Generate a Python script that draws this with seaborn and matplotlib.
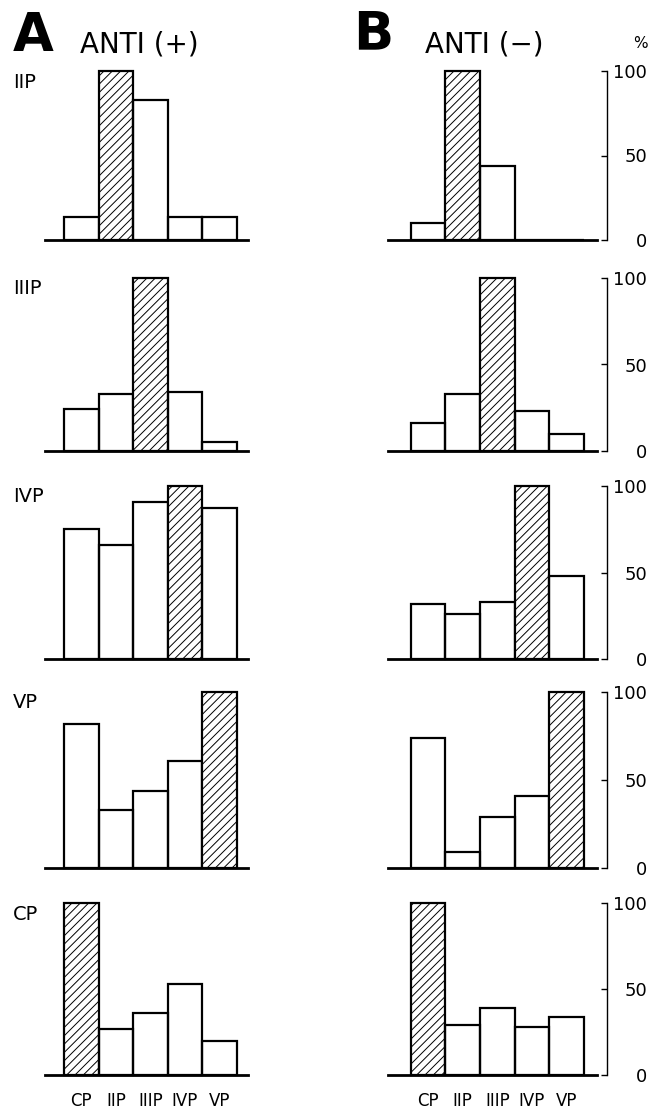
import matplotlib
matplotlib.use("Agg")
import matplotlib.pyplot as plt
import seaborn as sns
import pandas as pd

sns.set_theme(style="white")
plt.rcParams["font.family"] = ["DejaVu Sans"]
plt.rcParams["hatch.linewidth"] = 0.7
plt.rcParams["text.color"] = "black"
plt.rcParams["xtick.color"] = "black"
plt.rcParams["ytick.color"] = "black"

# ---- data ----
categories = ["CP", "IIP", "IIIP", "IVP", "VP"]
row_labels = ["IIP", "IIIP", "IVP", "VP", "CP"]

anti_plus_iip = [13.5, 100, 83, 13.5, 13.5]
anti_plus_iiip = [24, 33, 100, 34, 5]
anti_plus_ivp = [75, 66, 91, 100, 87]
anti_plus_vp = [82, 33, 44, 61, 100]
anti_plus_cp = [100, 27, 36, 53, 20]

anti_minus_iip = [10, 100, 44, 0, 0]
anti_minus_iiip = [16, 33, 100, 23, 10]
anti_minus_ivp = [32, 26, 33, 100, 48]
anti_minus_vp = [74, 9, 29, 41, 100]
anti_minus_cp = [100, 29, 39, 28, 34]

panel_titles = ["ANTI (+)", "ANTI (\u2212)"]
panel_letters = ["A", "B"]
y_ticks = [0, 50, 100]

anti_plus = [anti_plus_iip, anti_plus_iiip, anti_plus_ivp, anti_plus_vp, anti_plus_cp]
anti_minus = [anti_minus_iip, anti_minus_iiip, anti_minus_ivp, anti_minus_vp, anti_minus_cp]

# ---- layout (pixels) ----
W, H = 656, 1109
fig = plt.figure(figsize=(W / 100, H / 100), dpi=100)

baselines = [240, 451, 659, 868, 1075]
tops = [71, 278, 486, 692, 903]
col_x = [(45, 248, -1.05, 4.82), (388, 597, -1.16, 4.88)]


def px_axes(x0, x1, ytop, ybot):
    return fig.add_axes([x0 / W, 1 - ybot / H, (x1 - x0) / W, (ybot - ytop) / H])


for r in range(5):
    for c, data in enumerate([anti_plus, anti_minus]):
        x0, x1, xl, xr = col_x[c]
        ax = px_axes(x0, x1, tops[r], baselines[r])
        df = pd.DataFrame({"region": categories, "pct": data[r]})
        sns.barplot(data=df, x="region", y="pct", order=categories, ax=ax,
                    fill=False, color="black", width=1.0, linewidth=1.6,
                    errorbar=None)
        hatched = categories.index(row_labels[r])
        for i, p in enumerate(ax.patches):
            p.set_clip_on(False)
            p.set_edgecolor("black")
            if i == hatched:
                p.set_hatch("////")
                p.set_fill(True)
                p.set_facecolor("white")
        ax.set_xlim(xl, xr)
        ax.set_ylim(0, 100)
        ax.set_xlabel("")
        ax.set_ylabel("")
        ax.patch.set_alpha(0)
        for s in ["top", "left", "right"]:
            ax.spines[s].set_visible(False)
        ax.spines["bottom"].set_color("black")
        ax.spines["bottom"].set_linewidth(2.0)
        ax.spines["bottom"].set_zorder(5)
        ax.set_yticks([])
        if r == 4:
            ax.set_xticks(range(5))
            ax.set_xticklabels(categories, fontsize=12)
            ax.tick_params(axis="x", length=0, pad=12, colors="black")
        else:
            ax.set_xticks([])
        if c == 1:
            ax.spines["right"].set_visible(True)
            ax.spines["right"].set_color("black")
            ax.spines["right"].set_linewidth(1.0)
            ax.spines["right"].set_position(("outward", 7))
            ax.yaxis.tick_right()
            ax.set_yticks(y_ticks)
            ax.set_yticklabels([str(v) for v in y_ticks], fontsize=13)
            ax.tick_params(axis="y", direction="in", length=4, width=1.0,
                           pad=29, colors="black", right=True, left=False)
            for lab in ax.get_yticklabels():
                lab.set_horizontalalignment("right")
        # row label on left panel
        if c == 0:
            fig.text(13 / W, 1 - (tops[r] + 11) / H, row_labels[r],
                     fontsize=14, ha="left", va="center", color="black")

# headers
fig.text(13 / W, 1 - 36 / H, panel_letters[0], fontsize=38, fontweight="bold",
         ha="left", va="center", color="black")
fig.text(80 / W, 1 - 45 / H, panel_titles[0], fontsize=20, ha="left", va="center",
         color="black")
fig.text(353 / W, 1 - 34 / H, panel_letters[1], fontsize=38, fontweight="bold",
         ha="left", va="center", color="black")
fig.text(425 / W, 1 - 44 / H, panel_titles[1], fontsize=20, ha="left", va="center",
         color="black")
fig.text(640 / W, 1 - 44 / H, "%", fontsize=11, ha="center", va="center",
         color="black")

fig.savefig("out.png", dpi=100, facecolor="white")
